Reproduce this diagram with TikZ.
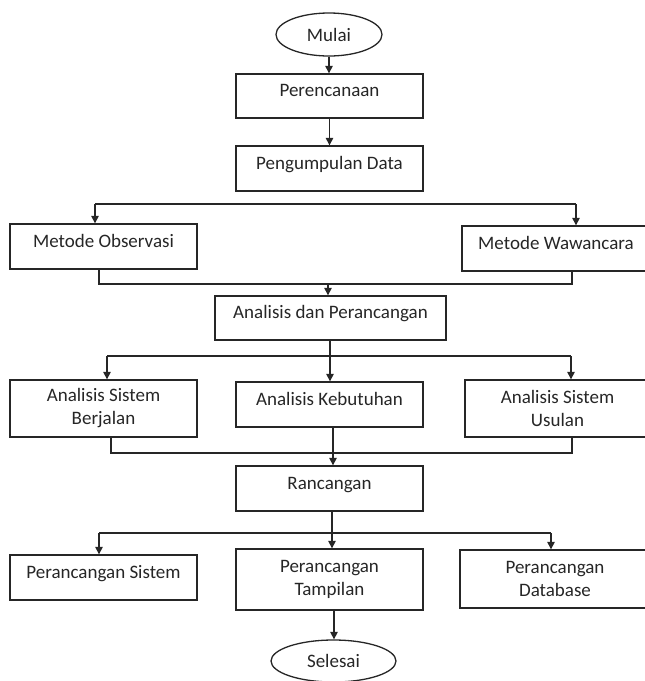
\documentclass[tikz,border=0pt]{standalone}
\usepackage{fontspec}
\setmainfont{Carlito}
\usetikzlibrary{arrows.meta,shapes.geometric}
\begin{document}
\begin{tikzpicture}[x=1pt,y=-1pt,
  line width=1.4pt,
  every node/.style={font=\fontsize{19}{23}\selectfont, text=black!85, inner sep=0pt},
  box/.style={draw=black!85, rectangle, align=center, line width=1.4pt},
  onebox/.style={box, text height=13pt, text depth=12pt},
  term/.style={draw=black!85, ellipse, line width=1.3pt},
  conn/.style={draw=black!85, line width=1.4pt},
  arr/.style={conn, -{Triangle[length=7.5pt,width=7.5pt]}}]
\useasboundingbox (0,0) rectangle (645,681);
% nodes
\node[term, minimum width=106, minimum height=43] (mulai) at (329,34.5) {Mulai};
\node[onebox, minimum width=187, minimum height=44] (perenc) at (329.5,96) {Perencanaan};
\node[onebox, minimum width=187, minimum height=45] (pengum) at (329.5,168.5) {Pengumpulan Data};
\node[onebox, minimum width=187, minimum height=45] (obs) at (103.5,246.5) {Metode Observasi};
\node[onebox, minimum width=188, minimum height=45] (waw) at (556,248.5) {Metode Wawancara};
\node[onebox, minimum width=231, minimum height=44] (adp) at (330.5,318) {Analisis dan Perancangan};
\node[box, minimum width=187, minimum height=57] (berj) at (103.5,408.5) {Analisis Sistem\\Berjalan};
\node[onebox, minimum width=187, minimum height=45] (kebut) at (329.5,404.5) {Analisis Kebutuhan};
\node[box, minimum width=185, minimum height=57] (usul) at (557.5,408.5) {Analisis Sistem\\Usulan};
\node[onebox, minimum width=187, minimum height=45] (ranc) at (329.5,488.5) {Rancangan};
\node[onebox, minimum width=187, minimum height=45] (psis) at (103.5,577.5) {Perancangan Sistem};
\node[box, minimum width=187, minimum height=61] (ptam) at (329.5,579.5) {Perancangan\\Tampilan};
\node[box, minimum width=190, minimum height=58] (pdb) at (555,579) {Perancangan\\Database};
\node[term, minimum width=125, minimum height=42] (selesai) at (333.5,661) {Selesai};
% junction coordinates
\coordinate (s1L) at (95,204);
\coordinate (s1R) at (576,204);
\coordinate (m1L) at (99,284);
\coordinate (m1R) at (572,284);
\coordinate (m1C) at (328,284);
\coordinate (s2L) at (107,356);
\coordinate (s2C) at (330,356);
\coordinate (s2R) at (571,356);
\coordinate (m2L) at (111,453);
\coordinate (m2R) at (572,453);
\coordinate (s3L) at (99,533);
\coordinate (s3C) at (332,533);
\coordinate (s3R) at (551,533);
% connectors
\draw[arr] (mulai.south) -- (mulai.south |- perenc.north);
\draw[arr] (perenc.south) -- (perenc.south |- pengum.north);
\draw[conn] (s1L) -- (s1R);
\draw[arr] (s1L) -- (s1L |- obs.north);
\draw[arr] (s1R) -- (s1R |- waw.north);
\draw[conn] (m1L |- obs.south) -- (m1L) -- (m1R) -- (m1R |- waw.south);
\draw[arr] (m1C) -- (m1C |- adp.north);
\draw[conn] (s2C |- adp.south) -- (s2C);
\draw[conn] (s2L) -- (s2R);
\draw[arr] (s2L) -- (s2L |- berj.north);
\draw[arr] (s2C) -- (s2C |- kebut.north);
\draw[arr] (s2R) -- (s2R |- usul.north);
\draw[conn] (m2L |- berj.south) -- (m2L) -- (m2R) -- (m2R |- usul.south);
\draw[arr] ([xshift=3.5pt]kebut.south) -- ([xshift=3.5pt]kebut.south |- ranc.north);
\draw[conn] (s3C |- ranc.south) -- (s3C);
\draw[conn] (s3L) -- (s3R);
\draw[arr] (s3L) -- (s3L |- psis.north);
\draw[arr] (s3C) -- (s3C |- ptam.north);
\draw[arr] (s3R) -- (s3R |- pdb.north);
\draw[arr] ([xshift=4.5pt]ptam.south) -- ([xshift=4.5pt]ptam.south |- selesai.north);
\end{tikzpicture}
\end{document}
